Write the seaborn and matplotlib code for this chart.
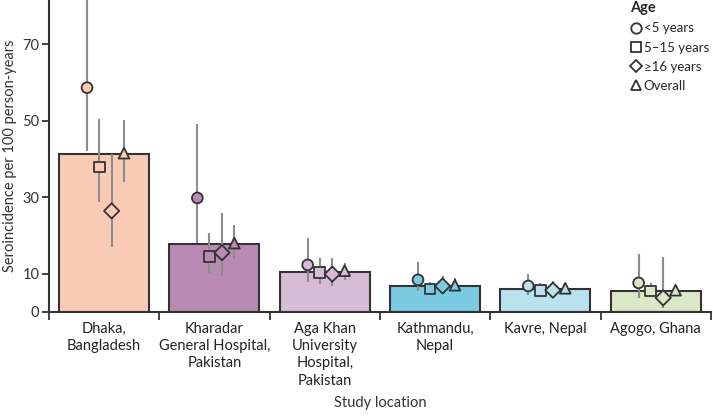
import numpy as np
import pandas as pd
import matplotlib
matplotlib.use("Agg")
import matplotlib.pyplot as plt
from matplotlib.lines import Line2D
import seaborn as sns

# ---- data ----
locations = ["Dhaka,\nBangladesh", "Kharadar\nGeneral Hospital,\nPakistan",
             "Aga Khan\nUniversity\nHospital,\nPakistan", "Kathmandu,\nNepal",
             "Kavre, Nepal", "Agogo, Ghana"]
overall_bar = [41.3, 17.7, 10.4, 6.8, 6.0, 5.5]
age_groups = ["<5 years", "5\u201315 years", "\u226516 years", "Overall"]

est_lt5 = [58.6, 29.8, 12.3, 8.4, 6.8, 7.6]
lo_lt5 = [42.0, 18.0, 7.8, 5.5, 4.4, 3.7]
hi_lt5 = [95.0, 49.0, 19.3, 13.0, 9.9, 15.1]

est_5_15 = [37.9, 14.4, 10.4, 6.0, 5.7, 5.5]
lo_5_15 = [28.7, 10.2, 7.3, 4.7, 4.4, 4.2]
hi_5_15 = [50.4, 20.6, 14.1, 7.9, 7.5, 7.5]

est_16 = [26.4, 15.5, 9.9, 6.8, 5.7, 3.7]
lo_16 = [17.0, 9.4, 6.8, 5.5, 3.9, 1.0]
hi_16 = [41.3, 25.8, 14.1, 9.4, 8.1, 14.3]

est_all = [41.5, 18.0, 10.8, 7.0, 6.2, 5.7]
lo_all = [34.0, 13.8, 8.4, 6.0, 4.9, 5.0]
hi_all = [50.1, 22.7, 12.9, 8.8, 7.5, 6.6]

y_ticks = [0, 10, 30, 50, 70]

bar_colors = ["#F9CBB5", "#B98AB3", "#D8BBD6", "#7ACBE1", "#BAE1EE", "#DAE8C8"]
marker_shapes = {"<5 years": "o", "5\u201315 years": "s", "\u226516 years": "D", "Overall": "^"}
offsets = [-0.155, -0.045, 0.068, 0.18]

# ---- build frames ----
n = len(locations)
pos = np.arange(n)
bars_df = pd.DataFrame({"pos": pos, "value": overall_bar, "location": locations})

rows = []
for gi, (g, e, lo, hi) in enumerate(zip(age_groups,
                                        [est_lt5, est_5_15, est_16, est_all],
                                        [lo_lt5, lo_5_15, lo_16, lo_all],
                                        [hi_lt5, hi_5_15, hi_16, hi_all])):
    for i in range(n):
        rows.append({"x": pos[i] + offsets[gi], "value": e[i], "lo": lo[i], "hi": hi[i],
                     "age": g, "location": locations[i]})
pts = pd.DataFrame(rows)

sns.set_style("ticks")
font_list = ["Lato", "DejaVu Sans"]
plt.rcParams["font.family"] = font_list

fig = plt.figure(figsize=(7.13, 4.18), dpi=100)
ax = fig.add_axes([0.0687, 0.2536, 0.9283, 0.7464])

sns.barplot(data=bars_df, x="pos", y="value", hue="location", palette=bar_colors,
            native_scale=True, dodge=False, width=0.816, edgecolor="#333333",
            linewidth=1.5, legend=False, ax=ax, zorder=1, saturation=1)

ax.vlines(pts["x"], pts["lo"], pts["hi"], color="#8c8c8c", linewidth=1.5, zorder=2)

pal = dict(zip(locations, bar_colors))
sns.scatterplot(data=pts, x="x", y="value", hue="location", palette=pal,
                style="age", markers=marker_shapes, s=60, edgecolor="#333333",
                linewidth=1.3, legend=False, ax=ax, zorder=3, clip_on=True)

ax.set_xlim(-0.5, n - 0.5)
ax.set_ylim(0, 81.5)
ax.set_yticks(y_ticks)
ax.set_yticklabels([str(t) for t in y_ticks])
ax.set_xticks(np.arange(-0.5, n, 1.0))
ax.set_xticklabels([])
ax.set_xticks(pos, minor=True)
ax.set_xticklabels(locations, minor=True, fontsize=10.5, color="#222222", linespacing=1.3)
ax.tick_params(axis="x", which="minor", length=0, pad=7)
ax.tick_params(axis="x", which="major", length=6, width=1.3, color="#333333")
ax.tick_params(axis="y", length=5, width=1.3, color="#333333", labelsize=10.5,
               labelcolor="#333333", pad=2)
for s in ["top", "right"]:
    ax.spines[s].set_visible(False)
for s in ["left", "bottom"]:
    ax.spines[s].set_linewidth(1.5)
    ax.spines[s].set_color("#333333")

ax.set_ylabel("Seroincidence per 100 person-years", fontsize=10.5, color="#333333", labelpad=4)
ax.set_xlabel("Study location", fontsize=10.5, color="#333333", labelpad=6)

handles = [Line2D([], [], marker=marker_shapes[g], linestyle="none",
                  markersize=7.5 if g != "\u226516 years" else 6.5,
                  markerfacecolor="white", markeredgecolor="#333333", markeredgewidth=1.3, label=g)
           for g in age_groups]
leg = fig.legend(handles=handles, title="Age", loc="upper left",
                 bbox_to_anchor=(630 / 713, 1 - 1 / 418),
                 frameon=False, fontsize=9.5, handletextpad=0.15, labelspacing=0.55,
                 handlelength=0.9, borderaxespad=0.0, borderpad=0.0)
leg.get_title().set_fontweight("bold")
leg.get_title().set_fontsize(10.5)
leg._legend_box.align = "left"

fig.savefig("out.png", dpi=100)
